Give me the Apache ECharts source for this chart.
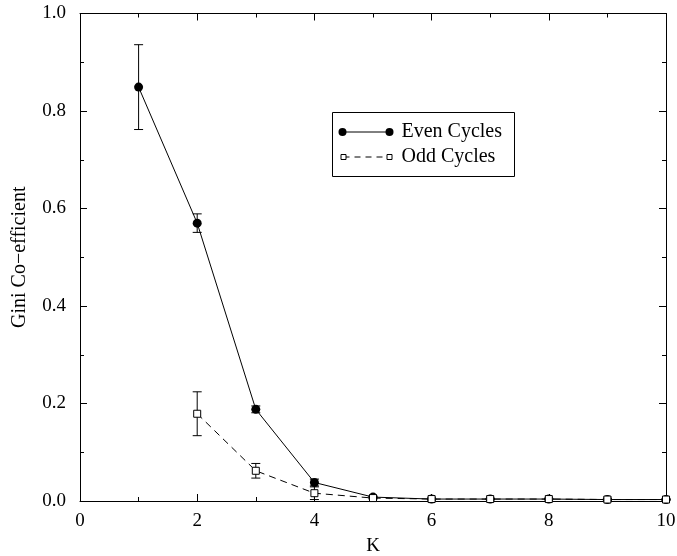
<!DOCTYPE html>
<html>
<head>
<meta charset="utf-8">
<script src="https://cdn.jsdelivr.net/npm/echarts@6/dist/echarts.min.js"></script>
<style>
html,body{margin:0;padding:0;background:#fff;}
#chart{width:677px;height:556px;}
</style>
</head>
<body>
<div id="chart"></div>
<script>
var kValues = [1, 2, 3, 4, 5, 6, 7, 8, 9, 10];
var evenValues = [0.849, 0.570, 0.188, 0.038, 0.008, 0.004, 0.004, 0.004, 0.003, 0.003];
var evenErr = [0.087, 0.019, 0.007, 0.007, 0.002, 0.001, 0.001, 0.001, 0.001, 0.001];
var oddValues = [null, 0.179, 0.062, 0.016, 0.006, 0.004, 0.004, 0.004, 0.003, 0.003];
var oddErr = [null, 0.045, 0.015, 0.013, 0.002, 0.001, 0.001, 0.001, 0.001, 0.001];
var seriesNames = ['Even Cycles', 'Odd Cycles'];
var xAxisName = 'K';
var yAxisName = 'Gini Co\u2212efficient';

var FONT = 'Liberation Serif';

function pairs(vals) {
  var out = [];
  for (var i = 0; i < kValues.length; i++) {
    if (vals[i] !== null) out.push([kValues[i], vals[i]]);
  }
  return out;
}
function errData(vals, errs) {
  var out = [];
  for (var i = 0; i < kValues.length; i++) {
    if (vals[i] !== null && errs[i] !== null) out.push([kValues[i], vals[i] - errs[i], vals[i] + errs[i]]);
  }
  return out;
}
function errRender(params, api) {
  var x = api.value(0);
  var lo = api.coord([x, api.value(1)]);
  var hi = api.coord([x, api.value(2)]);
  var hw = 4.5;
  var st = { stroke: '#000', lineWidth: 1 };
  return {
    type: 'group',
    children: [
      { type: 'line', shape: { x1: lo[0], y1: lo[1], x2: hi[0], y2: hi[1] }, style: st },
      { type: 'line', shape: { x1: lo[0] - hw, y1: lo[1], x2: lo[0] + hw, y2: lo[1] }, style: st },
      { type: 'line', shape: { x1: hi[0] - hw, y1: hi[1], x2: hi[0] + hw, y2: hi[1] }, style: st }
    ]
  };
}

var axisBase = {
  axisLine: { show: true, onZero: false, lineStyle: { color: '#000', width: 1 } },
  axisTick: { show: true, inside: true, length: 7, lineStyle: { color: '#000' } },
  minorTick: { show: true, splitNumber: 2, length: 4, lineStyle: { color: '#000' } },
  splitLine: { show: false }
};

var chart = echarts.init(document.getElementById('chart'));
var option = {
  animation: false,
  backgroundColor: '#fff',
  grid: { left: 80, right: 11, top: 13.5, bottom: 55, containLabel: false, outerBoundsMode: 'none' },
  xAxis: [
    Object.assign({
      type: 'value', min: 0, max: 10, interval: 2, position: 'bottom',
      name: xAxisName, nameLocation: 'middle', nameGap: 36,
      nameTextStyle: { fontFamily: FONT, fontSize: 19, color: '#000' },
      axisLabel: { fontFamily: FONT, fontSize: 19, color: '#000', margin: 11 }
    }, axisBase),
    Object.assign({
      type: 'value', min: 0, max: 10, interval: 2, position: 'top',
      axisLabel: { show: false }
    }, axisBase)
  ],
  yAxis: [
    Object.assign({
      type: 'value', min: 0, max: 1, interval: 0.2, position: 'left',
      name: yAxisName, nameLocation: 'middle', nameGap: 50,
      nameTextStyle: { fontFamily: FONT, fontSize: 20, color: '#000' },
      axisLabel: { fontFamily: FONT, fontSize: 19, color: '#000', margin: 14,
        formatter: function (v) { return v.toFixed(1); } }
    }, axisBase),
    Object.assign({
      type: 'value', min: 0, max: 1, interval: 0.2, position: 'right',
      axisLabel: { show: false }
    }, axisBase)
  ],
  series: [
    {
      name: seriesNames[0] + ' err', type: 'custom', renderItem: errRender,
      data: errData(evenValues, evenErr), z: 2, silent: true
    },
    {
      name: seriesNames[1] + ' err', type: 'custom', renderItem: errRender,
      data: errData(oddValues, oddErr), z: 2, silent: true
    },
    {
      name: seriesNames[0], type: 'line', data: pairs(evenValues),
      symbol: 'circle', symbolSize: 9, showAllSymbol: true,
      lineStyle: { color: '#000', width: 1 },
      itemStyle: { color: '#000', borderColor: '#000', borderWidth: 0 },
      z: 3
    },
    {
      name: seriesNames[1], type: 'line', data: pairs(oddValues),
      symbol: 'rect', symbolSize: 7, showAllSymbol: true,
      lineStyle: { color: '#000', width: 1, type: [7, 5] },
      itemStyle: { color: '#fff', borderColor: '#000', borderWidth: 1 },
      z: 4
    }
  ],
  graphic: [
    {
      type: 'group', left: 332, top: 112,
      children: [
        { type: 'rect', shape: { x: 0, y: 0, width: 182, height: 64 },
          style: { fill: '#fff', stroke: '#000', lineWidth: 1 } },
        { type: 'line', shape: { x1: 10, y1: 19.5, x2: 57, y2: 19.5 }, style: { stroke: '#000', lineWidth: 1 } },
        { type: 'circle', shape: { cx: 10, cy: 19.5, r: 4 }, style: { fill: '#000' } },
        { type: 'circle', shape: { cx: 57, cy: 19.5, r: 4 }, style: { fill: '#000' } },
        { type: 'text', x: 69, y: 19.5, style: { text: seriesNames[0], fontFamily: FONT, fontSize: 20, fill: '#000', verticalAlign: 'middle' } },
        { type: 'line', shape: { x1: 11, y1: 44.5, x2: 57, y2: 44.5 }, style: { stroke: '#000', lineWidth: 1, lineDash: [6, 5] } },
        { type: 'rect', shape: { x: 8.5, y: 42, width: 5, height: 5 }, style: { fill: '#fff', stroke: '#000', lineWidth: 1 } },
        { type: 'rect', shape: { x: 54.5, y: 42, width: 5, height: 5 }, style: { fill: '#fff', stroke: '#000', lineWidth: 1 } },
        { type: 'text', x: 69, y: 44.5, style: { text: seriesNames[1], fontFamily: FONT, fontSize: 20, fill: '#000', verticalAlign: 'middle' } }
      ]
    }
  ]
};
chart.setOption(option);
</script>
</body>
</html>
